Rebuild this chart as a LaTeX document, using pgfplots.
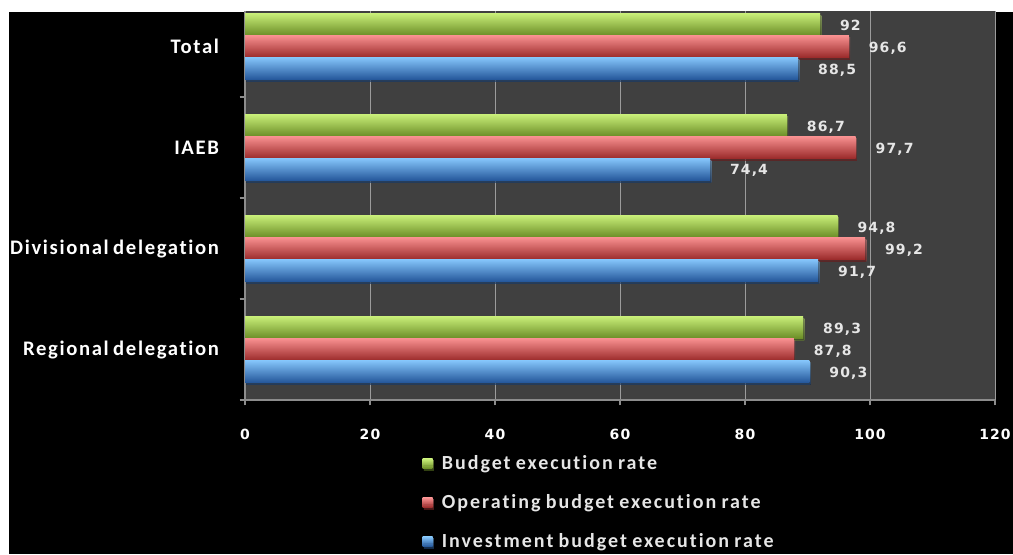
\documentclass[border=0pt]{standalone}
\usepackage{pgfplots}
\pgfplotsset{compat=1.18}
\usetikzlibrary{shadows}
\usepackage{fontspec}
\setmainfont{Carlito}
\newfontfamily\lblfont{Carlito}[Ligatures=NoCommon, LetterSpace=8, WordSpace=0.7]
\newfontfamily\numfont{DejaVu Sans}[LetterSpace=8]
\newfontfamily\legfont{Carlito}[Ligatures=NoCommon, LetterSpace=10, WordSpace=0.8]
\definecolor{plotbg}{HTML}{404040}
\definecolor{gridgray}{HTML}{9C9C9C}
\definecolor{axisgray}{HTML}{8C8C8C}
\definecolor{labelwhite}{HTML}{E6E6E6}
\definecolor{gTop}{HTML}{C8EE78}
\definecolor{gMid}{HTML}{9CCC3E}
\definecolor{gBot}{HTML}{6A8C26}
\definecolor{rTop}{HTML}{F89090}
\definecolor{rMid}{HTML}{DC4646}
\definecolor{rBot}{HTML}{9A2A2A}
\definecolor{bTop}{HTML}{84C4FA}
\definecolor{bMid}{HTML}{3F88DC}
\definecolor{bBot}{HTML}{24569A}
\pgfplotsset{
  barshadow/.style={drop shadow={shadow xshift=1pt, shadow yshift=-1.5pt, opacity=0.45, fill=black}},
  gbar/.style={draw=none, bar shift=0.218, top color=gTop, middle color=gMid, bottom color=gBot, barshadow},
  rbar/.style={draw=none, bar shift=0, top color=rTop, middle color=rMid, bottom color=rBot, barshadow},
  bbar/.style={draw=none, bar shift=-0.218, top color=bTop, middle color=bMid, bottom color=bBot, barshadow},
}
\begin{document}
\begin{tikzpicture}[x=0.75pt,y=0.75pt]
\fill[white] (0,0) rectangle (1013,554);
\begin{scope}
\clip (9,0) rectangle (1013,542);
\fill[black] (9,0) rectangle (1013,542);
\begin{axis}[
  at={(183.75pt,115.5pt)}, anchor=south west,
  scale only axis, width=562.5pt, height=303pt,
  xbar, bar width=0.218,
  xmin=0, xmax=120, ymin=-0.5, ymax=3.5,
  axis background/.style={fill=plotbg},
  axis x line*=bottom, axis y line*=left,
  axis line style={draw=axisgray, line width=0.8pt, -},
  xtick={0,20,...,120},
  ytick={-0.5,0.5,1.5,2.5,3.5},
  yticklabels={Regional delegation,Divisional delegation,IAEB,Total},
  y tick label as interval,
  tick align=outside, major tick length=4pt,
  tick style={draw=axisgray, line width=0.8pt},
  xmajorgrids, grid style={draw=gridgray, line width=0.75pt},
  /pgf/number format/.cd, use comma, fixed, precision=1, assume math mode=true,
  /pgfplots/.cd,
  xticklabel style={font=\numfont\bfseries\fontsize{10.5}{12}\selectfont, text=white, yshift=-14pt},
  yticklabel style={font=\lblfont\bfseries\fontsize{15.5}{17}\selectfont, text=white, xshift=-12pt},
  nodes near coords, point meta=x,
  nodes near coords align={horizontal},
  every node near coord/.append style={font=\numfont\bfseries\fontsize{10.5}{12}\selectfont, text=labelwhite, xshift=11.5pt, yshift=-1pt},
  legend style={at={(0.231,-0.124)}, anchor=north west, draw=none, fill=none,
    text=labelwhite, font=\legfont\bfseries\fontsize{15}{17}\selectfont, row sep=13.2pt},
  legend cell align=left,
  legend image code/.code={\fill[#1, drop shadow={opacity=0}] (0pt,-3.6pt) rectangle (7.5pt,3.6pt); \path (0pt,0pt) -- (12.5pt,0pt);},
]
\addplot[gbar] coordinates {(92,3)};
\addlegendentry{Budget execution rate}
\addplot[rbar] coordinates {(96.6,3)};
\addlegendentry{Operating budget execution rate}
\addplot[bbar] coordinates {(88.5,3)};
\addlegendentry{Investment budget execution rate}
\addplot[gbar, forget plot] coordinates {(86.7,2)};
\addplot[rbar, forget plot] coordinates {(97.7,2)};
\addplot[bbar, forget plot] coordinates {(74.4,2)};
\addplot[gbar, forget plot] coordinates {(94.8,1)};
\addplot[rbar, forget plot] coordinates {(99.2,1)};
\addplot[bbar, forget plot] coordinates {(91.7,1)};
\addplot[gbar, forget plot] coordinates {(89.3,0)};
\addplot[rbar, forget plot] coordinates {(87.8,0)};
\addplot[bbar, forget plot] coordinates {(90.3,0)};
\end{axis}
\end{scope}
\pgfresetboundingbox
\useasboundingbox (0,0) rectangle (1013,554);
\end{tikzpicture}
\end{document}
